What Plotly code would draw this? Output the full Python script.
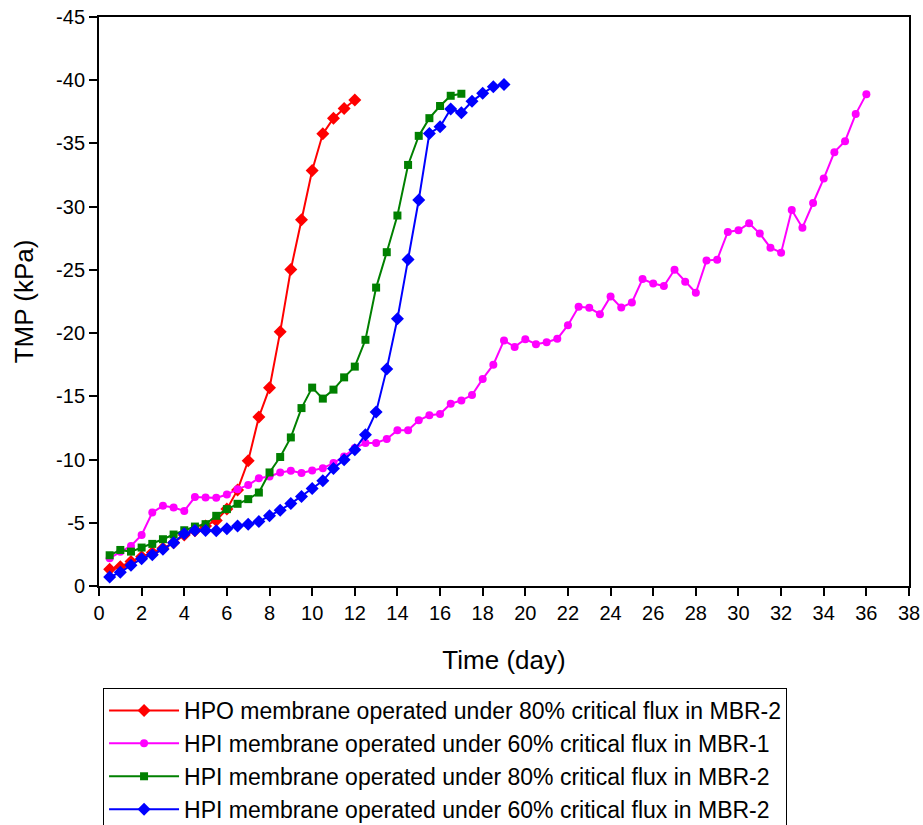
import plotly.graph_objects as go

# ---------------- data ----------------
days_hpo80 = [i * 0.5 for i in range(1, 25)]          # 0.5 .. 12
tmp_hpo80 = [-1.32, -1.53, -1.93, -2.32, -2.64, -2.98, -3.43, -4.04, -4.36, -4.75,
             -5.18, -6.08, -7.6, -9.9, -13.37, -15.67, -20.1, -25.04, -28.97, -32.86,
             -35.76, -37.0, -37.77, -38.43]

days_hpi60_mbr1 = [i * 0.5 for i in range(1, 73)]    # 0.5 .. 36
tmp_hpi60_mbr1 = [-2.2, -2.7, -3.17, -4.04, -5.81, -6.34, -6.2, -5.94, -7.03, -7.0,
                  -6.97, -7.23, -7.66, -7.98, -8.53, -8.66, -8.98, -9.11, -8.93, -9.14,
                  -9.32, -9.72, -10.25, -10.91, -11.31, -11.31, -11.63, -12.31, -12.31, -13.1,
                  -13.5, -13.6, -14.42, -14.68, -15.1, -16.38, -17.5, -19.42, -18.91, -19.52,
                  -19.12, -19.28, -19.55, -20.63, -22.08, -22.0, -21.5, -22.9, -22.02, -22.43,
                  -24.28, -23.92, -23.72, -25.01, -24.06, -23.19, -25.75, -25.81, -28.0, -28.13,
                  -28.68, -27.87, -26.76, -26.36, -29.74, -28.34, -30.29, -32.22, -34.31, -35.18,
                  -37.32, -38.9]

days_hpi80_mbr2 = [i * 0.5 for i in range(1, 35)]    # 0.5 .. 17
tmp_hpi80_mbr2 = [-2.43, -2.85, -2.72, -3.04, -3.33, -3.70, -4.07, -4.41, -4.7, -4.89,
                  -5.55, -6.08, -6.5, -6.87, -7.39, -8.98, -10.2, -11.75, -14.07, -15.69,
                  -14.82, -15.53, -16.5, -17.35, -19.47, -23.6, -26.4, -29.3, -33.3, -35.6,
                  -37.0, -37.96, -38.77, -38.93]

days_hpi60_mbr2 = [i * 0.5 for i in range(1, 39)]    # 0.5 .. 19
tmp_hpi60_mbr2 = [-0.71, -1.08, -1.64, -2.16, -2.48, -2.9, -3.43, -4.14, -4.38, -4.38,
                  -4.36, -4.52, -4.75, -4.89, -5.1, -5.55, -6.0, -6.52, -7.08, -7.71,
                  -8.32, -9.3, -9.98, -10.78, -11.97, -13.76, -17.17, -21.13, -25.83, -30.53,
                  -35.79, -36.32, -37.72, -37.43, -38.33, -38.96, -39.49, -39.67]

series_names = [
    "HPO membrane operated under 80% critical flux in MBR-2",
    "HPI membrane operated under 60% critical flux in MBR-1",
    "HPI membrane operated under 80% critical flux in MBR-2",
    "HPI membrane operated under 60% critical flux in MBR-2",
]

x_tick_vals = list(range(0, 39, 2))
y_tick_vals = [0, -5, -10, -15, -20, -25, -30, -35, -40, -45]
y_tick_text = ["0", "-5", "-10", "-15", "-20", "-25", "-30", "-35", "-40", "-45"]

# ---------------- figure ----------------
FONT = "Liberation Sans, Arial, sans-serif"

fig = go.Figure()
styles = [
    (days_hpo80, tmp_hpo80, "#ff0000", "diamond", 10),
    (days_hpi60_mbr1, tmp_hpi60_mbr1, "#ff00ff", "circle", 8),
    (days_hpi80_mbr2, tmp_hpi80_mbr2, "#008000", "square", 8),
    (days_hpi60_mbr2, tmp_hpi60_mbr2, "#0000ff", "diamond", 10),
]
for (xs, ys, col, sym, sz), name in zip(styles, series_names):
    fig.add_trace(go.Scatter(
        x=xs, y=ys, mode="lines+markers", name=name,
        line=dict(color=col, width=2),
        marker=dict(color=col, symbol=sym, size=sz, line=dict(width=0)),
    ))

fig.update_layout(
    width=923, height=825,
    margin=dict(l=99, r=14, t=17, b=239, pad=0, autoexpand=False),
    paper_bgcolor="white", plot_bgcolor="white",
    font=dict(family=FONT, color="black"),
    showlegend=True,
    legend=dict(
        x=0.005, y=-0.1793, xanchor="left", yanchor="top",
        bordercolor="black", borderwidth=1, bgcolor="white",
        font=dict(size=23, family=FONT),
        itemwidth=70, tracegroupgap=0,
    ),
    xaxis=dict(
        range=[0, 38], tickvals=x_tick_vals,
        showgrid=False, zeroline=False, automargin=False,
        showline=True, linecolor="black", linewidth=2, mirror=True,
        ticks="outside", ticklen=8, tickwidth=1.5, tickcolor="black",
        tickfont=dict(size=20),
        title=dict(text="Time (day)", font=dict(size=26), standoff=28),
    ),
    yaxis=dict(
        range=[0, -45], tickvals=y_tick_vals, ticktext=y_tick_text,
        showgrid=False, zeroline=False, automargin=False,
        showline=True, linecolor="black", linewidth=2, mirror=True,
        ticks="outside", ticklen=8, tickwidth=1.5, tickcolor="black",
        tickfont=dict(size=20),
        title=dict(text="TMP (kPa)", font=dict(size=26)),
    ),
)

fig.write_html("out.html")
